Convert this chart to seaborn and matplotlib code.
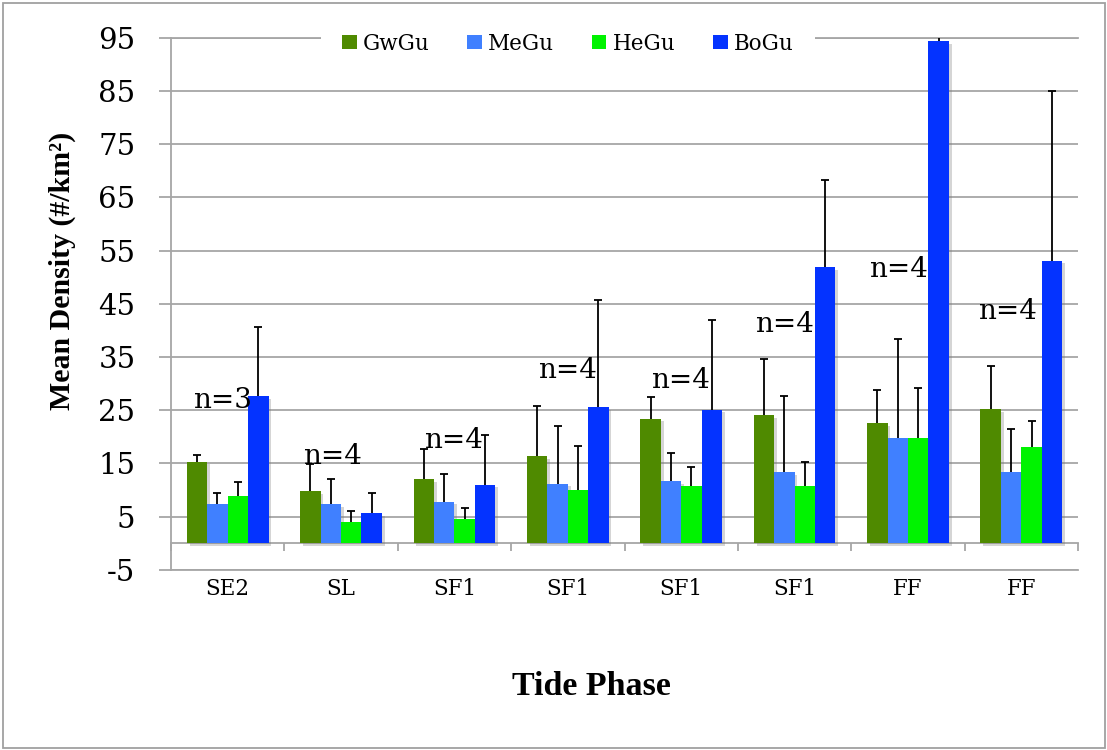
import numpy as np
import pandas as pd
import matplotlib
matplotlib.use("Agg")
import matplotlib.pyplot as plt
import matplotlib.patheffects as pe
from matplotlib.patches import Rectangle
import seaborn as sns

# ---------------- data ----------------
tide_labels = ["SE2", "SL", "SF1", "SF1", "SF1", "SF1", "FF", "FF"]
species = ["GwGu", "MeGu", "HeGu", "BoGu"]

gwgu_mean = [15.3, 9.7, 12.0, 16.3, 23.4, 24.1, 22.5, 25.2]
megu_mean = [7.4, 7.3, 7.8, 11.2, 11.6, 13.4, 19.7, 13.4]
hegu_mean = [8.85, 3.95, 4.45, 10.0, 10.7, 10.8, 19.7, 18.0]
bogu_mean = [27.6, 5.7, 11.0, 25.6, 25.1, 51.9, 94.4, 53.1]

gwgu_sd = [1.3, 5.2, 5.7, 9.5, 4.0, 10.5, 6.2, 8.0]
megu_sd = [2.1, 4.8, 5.2, 10.9, 5.3, 14.3, 18.7, 8.0]
hegu_sd = [2.55, 2.05, 2.2, 8.2, 3.6, 4.5, 9.4, 5.0]
bogu_sd = [13.1, 3.8, 9.4, 20.1, 16.8, 16.3, 20.0, 31.8]

n_counts = [3, 4, 4, 4, 4, 4, 4, 4]
# annotation placement for the n= labels (offset from group centre, baseline height)
n_dx = [-0.05, -0.08, -0.01, 0.0, -0.01, -0.09, -0.08, -0.12]
n_y = [25.4, 14.8, 17.9, 31.1, 29.2, 39.7, 50.1, 42.2]

colors = ["#4F8A00", "#4080FF", "#00F300", "#0433FF"]

means = [gwgu_mean, megu_mean, hegu_mean, bogu_mean]
sds = [gwgu_sd, megu_sd, hegu_sd, bogu_sd]

positions = list(range(len(tide_labels)))
df = pd.DataFrame({
    "pos": np.tile(positions, len(species)),
    "species": np.repeat(species, len(positions)),
    "value": np.concatenate(means),
})

# ---------------- style ----------------
sns.set_style("white")
plt.rcParams["font.family"] = ["DejaVu Serif", "DejaVu Sans"]
plt.rcParams["axes.unicode_minus"] = False
plt.rcParams["text.color"] = "black"
plt.rcParams["axes.labelcolor"] = "black"
plt.rcParams["xtick.labelcolor"] = "black"
plt.rcParams["ytick.labelcolor"] = "black"
GRAY = "#A6A6A6"

fig = plt.figure(figsize=(11.07, 7.5), dpi=100)
ax = fig.add_axes([171 / 1107, (750 - 569.7) / 750, 907 / 1107, 532 / 750])

sns.barplot(data=df, x="pos", y="value", hue="species", order=positions,
            hue_order=species, palette=colors, width=0.72, errorbar=None,
            saturation=1, linewidth=0, ax=ax, zorder=2)

# shadows + error bars (upper only)
for cont, sd in zip(ax.containers, sds):
    for bar, s in zip(cont, sd):
        bar.set_path_effects([pe.SimplePatchShadow(offset=(2, -2), shadow_rgbFace="#777777", alpha=0.3),
                              pe.Normal()])
        xc = bar.get_x() + bar.get_width() / 2
        h = bar.get_height()
        _, caps, _ = ax.errorbar(xc, h, yerr=[[0], [s]], fmt="none", ecolor="black",
                                 elinewidth=1.3, capsize=3.0, capthick=1.3, zorder=3)
        for cap in caps:
            if abs(cap.get_ydata()[0] - h) < 1e-9:
                cap.set_visible(False)

# n labels
for i, (n, dx, yy) in enumerate(zip(n_counts, n_dx, n_y)):
    ax.text(i + dx, yy, f"n={n}", ha="center", va="baseline", fontsize=20,
            family="DejaVu Serif", color="black", zorder=4)

ax.set_ylim(-5, 95)
ax.set_xlim(-0.5, len(positions) - 0.5)
ax.set_yticks(np.arange(-5, 96, 10))
ax.set_xticks(positions)
ax.set_xticklabels(tide_labels)

ax.grid(axis="y", color=GRAY, linewidth=1.3, zorder=0)
ax.set_axisbelow(True)
for side in ["left", "bottom", "top"]:
    ax.spines[side].set_visible(True)
    ax.spines[side].set_color(GRAY)
    ax.spines[side].set_linewidth(1.3)
ax.spines["right"].set_visible(False)

ax.tick_params(axis="y", direction="out", length=8.6, width=1.3, color=GRAY,
               labelsize=21, pad=17, left=True, labelcolor="black")
ax.tick_params(axis="x", length=0, labelsize=15.5, pad=6, labelcolor="black")

# zero line with category separators
sec = ax.secondary_xaxis(0.05)
sec.set_xticks(np.arange(-0.5, len(positions), 1.0))
sec.tick_params(direction="out", length=6, width=1.3, color=GRAY, labelbottom=False)
sec.spines["bottom"].set_color(GRAY)
sec.spines["bottom"].set_linewidth(1.3)

ax.set_xlabel("Tide Phase", fontsize=24.5, fontweight="bold", family="Liberation Serif", color="black")
ax.set_ylabel("Mean Density (#/km²)", fontsize=21.5, fontweight="bold", family="Liberation Serif", color="black")
ax.xaxis.set_label_coords(0.463, -0.19)
ax.yaxis.set_label_coords(-0.105, 0.561)

# legend
handles, labels = ax.get_legend_handles_labels()
leg = ax.legend(handles, labels, loc="center", bbox_to_anchor=(0.4377, 0.9887), ncol=4,
                frameon=True, facecolor="white", edgecolor="none", framealpha=1,
                fontsize=15.5, handlelength=0.67, handleheight=0.67, handletextpad=0.3,
                columnspacing=1.75, borderpad=1.0, borderaxespad=0)
for t in leg.get_texts():
    t.set_color("black")

# chart border
fig.add_artist(Rectangle((3 / 1107, 2 / 750), 1102 / 1107, 745 / 750,
                         transform=fig.transFigure, fill=False,
                         edgecolor="#A0A0A0", linewidth=1.3))

fig.savefig("out.png", dpi=100)
